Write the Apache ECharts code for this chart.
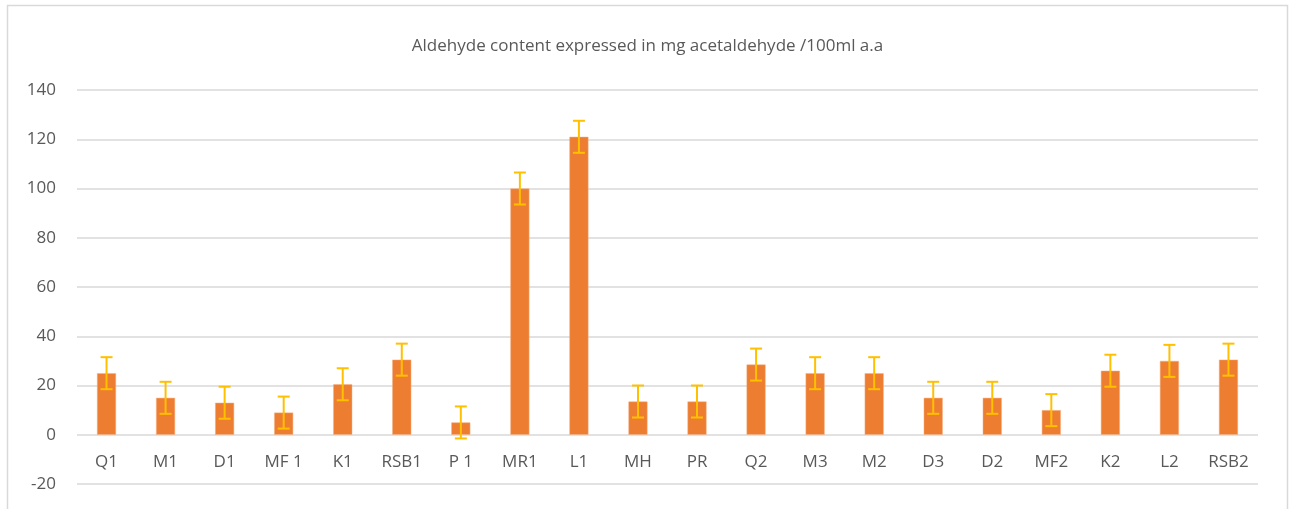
<!DOCTYPE html>
<html>
<head>
<meta charset="utf-8">
<script src="https://cdn.jsdelivr.net/npm/echarts@6/dist/echarts.min.js"></script>
<style>
html,body{margin:0;padding:0;background:#fff;}
#c{width:1295px;height:509px;}
</style>
</head>
<body>
<div id="c"></div>
<script>
const titleText = 'Aldehyde content expressed in mg acetaldehyde /100ml a.a';
const categories = ['Q1','M1','D1','MF 1','K1','RSB1','P 1','MR1','L1','MH','PR','Q2','M3','M2','D3','D2','MF2','K2','L2','RSB2'];
const values = [25, 15, 13, 9, 20.5, 30.5, 5, 100, 121, 13.5, 13.5, 28.5, 25, 25, 15, 15, 10, 26, 30, 30.5];
const errors = [6.5, 6.5, 6.5, 6.5, 6.5, 6.5, 6.5, 6.5, 6.5, 6.5, 6.5, 6.5, 6.5, 6.5, 6.5, 6.5, 6.5, 6.5, 6.5, 6.5];
const yTicks = { min: -20, max: 140, interval: 20 };

const errData = values.map((v, i) => [i, v - errors[i], v + errors[i]]);

const chart = echarts.init(document.getElementById('c'), null, { renderer: 'canvas' });
const txt = '#595959';
const font = '"Open Sans", sans-serif';
chart.setOption({
  animation: false,
  backgroundColor: '#fff',
  textStyle: { fontFamily: font },
  title: {
    text: titleText,
    left: 'center',
    top: 33,
    textStyle: { fontFamily: font, fontSize: 17, fontWeight: 'normal', color: txt }
  },
  graphic: [{
    type: 'rect',
    shape: { x: 7.5, y: 5.5, width: 1280, height: 600 },
    style: { fill: 'none', stroke: '#d9d9d9', lineWidth: 1.5 },
    silent: true
  }],
  grid: { left: 77, right: 37, top: 90, bottom: 25, outerBoundsMode: 'none', containLabel: false },
  xAxis: {
    type: 'category',
    data: categories,
    offset: -49,
    axisLine: { show: false, onZero: false },
    axisTick: { show: false },
    axisLabel: { color: txt, fontSize: 17, fontFamily: font, margin: 19, interval: 0 },
    splitLine: { show: false }
  },
  yAxis: {
    type: 'value',
    min: yTicks.min, max: yTicks.max, interval: yTicks.interval,
    axisLine: { show: false },
    axisTick: { show: false },
    axisLabel: { color: txt, fontSize: 17, fontFamily: font, margin: 21 },
    splitLine: { lineStyle: { color: '#d9d9d9', width: 1.5 } }
  },
  series: [
    {
      type: 'bar',
      data: values,
      barWidth: 19,
      itemStyle: { color: '#ED7D31', borderColor: '#F4B183', borderWidth: 0.5 },
      z: 2
    },
    {
      type: 'custom',
      data: errData,
      z: 3,
      renderItem: function (params, api) {
        const i = api.value(0);
        const lo = api.coord([i, api.value(1)]);
        const hi = api.coord([i, api.value(2)]);
        const x = lo[0];
        const hw = 6;
        const style = { stroke: '#FFC000', lineWidth: 2, fill: null };
        return {
          type: 'group',
          children: [
            { type: 'line', shape: { x1: x, y1: hi[1], x2: x, y2: lo[1] }, style: style },
            { type: 'line', shape: { x1: x - hw, y1: hi[1], x2: x + hw, y2: hi[1] }, style: style },
            { type: 'line', shape: { x1: x - hw, y1: lo[1], x2: x + hw, y2: lo[1] }, style: style }
          ]
        };
      }
    }
  ]
});
</script>
</body>
</html>
